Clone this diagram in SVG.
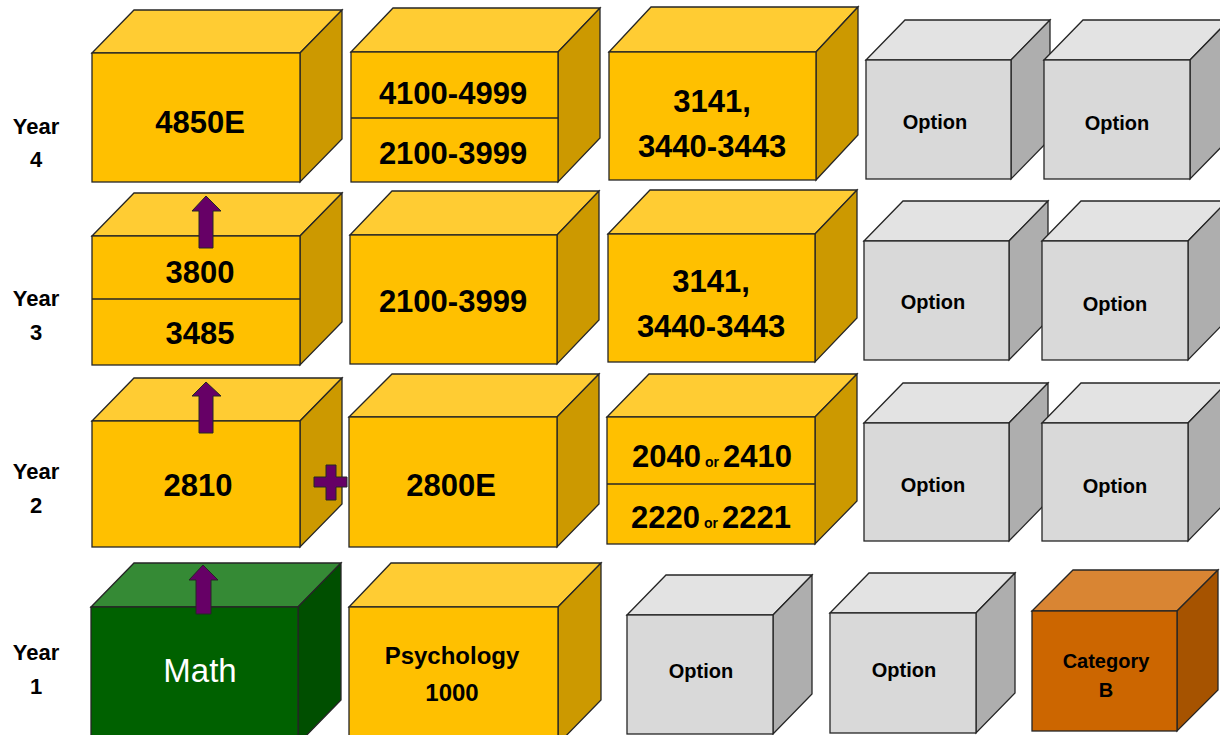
<svg xmlns="http://www.w3.org/2000/svg" width="1220" height="735" viewBox="0 0 1220 735">
<style>
.s{stroke:#262626;stroke-width:1.3;stroke-linejoin:miter}
.yf{fill:#FFC000}.yt{fill:#FFCC33}.yr{fill:#CC9900}
.gf{fill:#D9D9D9}.gt{fill:#E3E3E3}.gr{fill:#AEAEAE}
.mf{fill:#006100}.mt{fill:#358A35}.mr{fill:#004F00}
.of{fill:#CC6600}.ot{fill:#D98533}.or{fill:#A65300}
.t{font-family:"Liberation Sans",Arial,sans-serif;font-weight:bold;fill:#000;text-anchor:middle}
.big{font-size:31px}
.opt{font-size:20px}
.yr-l{font-size:22px}
.sm{font-size:14px}
.pur{fill:#660066;stroke:#262626;stroke-width:1}
</style>
<rect width="1220" height="735" fill="#fff"/>
<g id="labels">
<text class="t yr-l" x="36" y="134">Year</text><text class="t yr-l" x="36" y="167">4</text>
<text class="t yr-l" x="36" y="306">Year</text><text class="t yr-l" x="36" y="340">3</text>
<text class="t yr-l" x="36" y="479">Year</text><text class="t yr-l" x="36" y="513">2</text>
<text class="t yr-l" x="36" y="660">Year</text><text class="t yr-l" x="36" y="694">1</text>
</g>
<!-- Year 4 -->
<g id="y4-4850E">
<polygon class="s yt" points="92,53 134,10 342,10 300,53"/>
<polygon class="s yr" points="300,53 342,10 342,139 300,182"/>
<rect class="s yf" x="92" y="53" width="208" height="129"/>
<text class="t big" x="200" y="133">4850E</text>
</g>
<g id="y4-4100">
<polygon class="s yt" points="351,52 393,8 600,8 558,52"/>
<polygon class="s yr" points="558,52 600,8 600,138 558,182"/>
<rect class="s yf" x="351" y="52" width="207" height="130"/>
<line class="s" x1="351" y1="118" x2="558" y2="118"/>
<text class="t big" x="453" y="104">4100-4999</text>
<text class="t big" x="453" y="164">2100-3999</text>
</g>
<g id="y4-3141">
<polygon class="s yt" points="609,52 651,7 858,7 816,52"/>
<polygon class="s yr" points="816,52 858,7 858,135 816,180"/>
<rect class="s yf" x="609" y="52" width="207" height="128"/>
<text class="t big" x="712" y="112">3141,</text>
<text class="t big" x="712" y="157">3440-3443</text>
</g>
<g id="y4-opt1">
<polygon class="s gt" points="866,60 905,20 1050,20 1011,60"/>
<polygon class="s gr" points="1011,60 1050,20 1050,139 1011,179"/>
<rect class="s gf" x="866" y="60" width="145" height="119"/>
<text class="t opt" x="935" y="129">Option</text>
</g>
<g id="y4-opt2">
<polygon class="s gt" points="1044,60 1083,20 1229,20 1190,60"/>
<polygon class="s gr" points="1190,60 1229,20 1229,139 1190,179"/>
<rect class="s gf" x="1044" y="60" width="146" height="119"/>
<text class="t opt" x="1117" y="130">Option</text>
</g>
<!-- Year 3 -->
<g id="y3-3800">
<polygon class="s yt" points="92,236 134,193 342,193 300,236"/>
<polygon class="s yr" points="300,236 342,193 342,322 300,365"/>
<rect class="s yf" x="92" y="236" width="208" height="129"/>
<line class="s" x1="92" y1="299" x2="300" y2="299"/>
<text class="t big" x="200" y="283">3800</text>
<text class="t big" x="200" y="344">3485</text>
</g>
<g id="y3-2100">
<polygon class="s yt" points="350,235 392,191 599,191 557,235"/>
<polygon class="s yr" points="557,235 599,191 599,320 557,364"/>
<rect class="s yf" x="350" y="235" width="207" height="129"/>
<text class="t big" x="453" y="312">2100-3999</text>
</g>
<g id="y3-3141">
<polygon class="s yt" points="608,234 650,190 857,190 815,234"/>
<polygon class="s yr" points="815,234 857,190 857,318 815,362"/>
<rect class="s yf" x="608" y="234" width="207" height="128"/>
<text class="t big" x="711" y="292">3141,</text>
<text class="t big" x="711" y="337">3440-3443</text>
</g>
<g id="y3-opt1">
<polygon class="s gt" points="864,241 903,201 1048,201 1009,241"/>
<polygon class="s gr" points="1009,241 1048,201 1048,320 1009,360"/>
<rect class="s gf" x="864" y="241" width="145" height="119"/>
<text class="t opt" x="933" y="309">Option</text>
</g>
<g id="y3-opt2">
<polygon class="s gt" points="1042,241 1081,201 1227,201 1188,241"/>
<polygon class="s gr" points="1188,241 1227,201 1227,320 1188,360"/>
<rect class="s gf" x="1042" y="241" width="146" height="119"/>
<text class="t opt" x="1115" y="311">Option</text>
</g>
<!-- Year 2 -->
<g id="y2-2810">
<polygon class="s yt" points="92,421 134,378 342,378 300,421"/>
<polygon class="s yr" points="300,421 342,378 342,504 300,547"/>
<rect class="s yf" x="92" y="421" width="208" height="126"/>
<text class="t big" x="198" y="496">2810</text>
</g>
<g id="y2-2800E">
<polygon class="s yt" points="349,417 392,374 599,374 557,417"/>
<polygon class="s yr" points="557,417 599,374 599,504 557,547"/>
<rect class="s yf" x="349" y="417" width="208" height="130"/>
<text class="t big" x="451" y="496">2800E</text>
</g>
<g id="y2-2040">
<polygon class="s yt" points="607,417 649,374 857,374 815,417"/>
<polygon class="s yr" points="815,417 857,374 857,501 815,544"/>
<rect class="s yf" x="607" y="417" width="208" height="127"/>
<line class="s" x1="607" y1="484" x2="815" y2="484"/>
<text class="t big" x="712" y="467">2040<tspan class="sm" dx="4">or</tspan><tspan dx="4">2410</tspan></text>
<text class="t big" x="711" y="528">2220<tspan class="sm" dx="4">or</tspan><tspan dx="4">2221</tspan></text>
</g>
<g id="y2-opt1">
<polygon class="s gt" points="864,423 903,383 1048,383 1009,423"/>
<polygon class="s gr" points="1009,423 1048,383 1048,501 1009,541"/>
<rect class="s gf" x="864" y="423" width="145" height="118"/>
<text class="t opt" x="933" y="492">Option</text>
</g>
<g id="y2-opt2">
<polygon class="s gt" points="1042,423 1081,383 1227,383 1188,423"/>
<polygon class="s gr" points="1188,423 1227,383 1227,501 1188,541"/>
<rect class="s gf" x="1042" y="423" width="146" height="118"/>
<text class="t opt" x="1115" y="493">Option</text>
</g>
<!-- Year 1 -->
<g id="y1-math">
<polygon class="s mt" points="91,607 134,563 341,563 298,607"/>
<polygon class="s mr" points="298,607 341,563 341,700 298,744"/>
<rect class="s mf" x="91" y="607" width="207" height="140"/>
<text x="200" y="682" style="font-family:'Liberation Sans',Arial,sans-serif;font-size:33px;fill:#fff;text-anchor:middle">Math</text>
</g>
<g id="y1-psych">
<polygon class="s yt" points="349,607 391,563 601,563 558,607"/>
<polygon class="s yr" points="558,607 601,563 601,700 558,744"/>
<rect class="s yf" x="349" y="607" width="209" height="140"/>
<text class="t" style="font-size:24px" x="452" y="664">Psychology</text>
<text class="t" style="font-size:24px" x="452" y="701">1000</text>
</g>
<g id="y1-opt1">
<polygon class="s gt" points="627,615 666,575 812,575 773,615"/>
<polygon class="s gr" points="773,615 812,575 812,694 773,734"/>
<rect class="s gf" x="627" y="615" width="146" height="119"/>
<text class="t opt" x="701" y="678">Option</text>
</g>
<g id="y1-opt2">
<polygon class="s gt" points="830,613 869,573 1015,573 976,613"/>
<polygon class="s gr" points="976,613 1015,573 1015,693 976,733"/>
<rect class="s gf" x="830" y="613" width="146" height="120"/>
<text class="t opt" x="904" y="677">Option</text>
</g>
<g id="y1-catB">
<polygon class="s ot" points="1032,611 1073,570 1218,570 1177,611"/>
<polygon class="s or" points="1177,611 1218,570 1218,690 1177,731"/>
<rect class="s of" x="1032" y="611" width="145" height="120"/>
<text class="t opt" x="1106" y="668">Category</text>
<text class="t opt" x="1106" y="697">B</text>
</g>
<g id="connectors">
<polygon class="pur" points="199,248 199,211 192,211 206,196 221,211 213,211 213,248"/>
<polygon class="pur" points="199,433 199,396 192,396 206,382 221,396 213,396 213,433"/>
<polygon class="pur" points="196,614 196,580 189,580 203,565 218,580 211,580 211,614"/>
<polygon class="pur" points="326,465 336,465 336,477 347,477 347,487 336,487 336,500 326,500 326,487 314,487 314,477 326,477"/>
</g>
</svg>
